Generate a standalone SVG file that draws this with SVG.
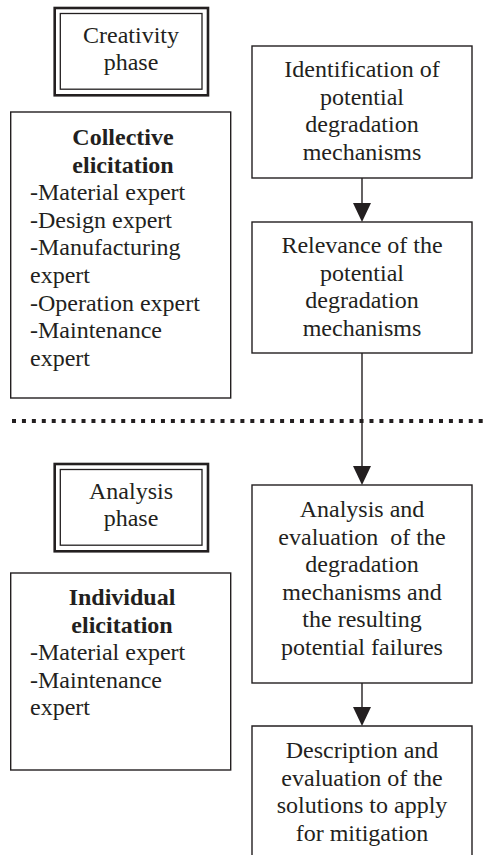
<svg xmlns="http://www.w3.org/2000/svg" width="488" height="859" viewBox="0 0 488 859">
<defs>
<style>
.bg{fill:#ffffff}
.box{fill:#ffffff;stroke:#231f20;stroke-width:1.4}
.outer{fill:#ffffff;stroke:#231f20;stroke-width:2.6}
.inner{fill:none;stroke:#231f20;stroke-width:1.3}
.t{font-family:"Liberation Serif","Times New Roman",serif;font-size:24px;fill:#231f20;white-space:pre}
.c{text-anchor:middle}
.b{font-weight:bold}
.line{stroke:#231f20;stroke-width:1.4;fill:none}
.head{fill:#231f20}
.dots{stroke:#231f20;stroke-width:4;stroke-dasharray:4 5.93;fill:none}
</style>
</defs>
<rect class="bg" x="0" y="0" width="488" height="859"/>

<g id="creativity-phase">
<rect class="outer" x="54.7" y="8" width="153.3" height="87.3"/>
<rect class="inner" x="60.3" y="13.5" width="141.7" height="75.7"/>
<text class="t c" x="131" y="43">Creativity</text>
<text class="t c" x="131" y="70">phase</text>
</g>

<g id="collective-elicitation">
<rect class="box" x="10.7" y="112" width="220" height="286"/>
<text class="t c b" x="123" y="145">Collective</text>
<text class="t c b" x="123" y="172.6">elicitation</text>
<text class="t" x="30" y="200.2">-Material expert</text>
<text class="t" x="30" y="227.8">-Design expert</text>
<text class="t" x="30" y="255.4">-Manufacturing</text>
<text class="t" x="30" y="283">expert</text>
<text class="t" x="30" y="310.6">-Operation expert</text>
<text class="t" x="30" y="338.2">-Maintenance</text>
<text class="t" x="30" y="365.8">expert</text>
</g>

<g id="identification">
<rect class="box" x="252" y="46" width="220" height="132"/>
<text class="t c" x="362" y="77">Identification of</text>
<text class="t c" x="362" y="104.6">potential</text>
<text class="t c" x="362" y="132.2">degradation</text>
<text class="t c" x="362" y="159.8">mechanisms</text>
</g>

<g id="relevance">
<rect class="box" x="252" y="222" width="220" height="131"/>
<text class="t c" x="362" y="253">Relevance of the</text>
<text class="t c" x="362" y="280.6">potential</text>
<text class="t c" x="362" y="308.2">degradation</text>
<text class="t c" x="362" y="335.8">mechanisms</text>
</g>

<g id="divider">
<line class="dots" x1="12" y1="421" x2="483" y2="421"/>
</g>

<g id="analysis-phase">
<rect class="outer" x="54.7" y="464" width="153.3" height="87.3"/>
<rect class="inner" x="60.3" y="469.5" width="141.7" height="75.7"/>
<text class="t c" x="131" y="499">Analysis</text>
<text class="t c" x="131" y="526">phase</text>
</g>

<g id="individual-elicitation">
<rect class="box" x="10.7" y="573" width="220" height="197"/>
<text class="t c b" x="122" y="605">Individual</text>
<text class="t c b" x="122" y="632.6">elicitation</text>
<text class="t" x="30" y="660.2">-Material expert</text>
<text class="t" x="30" y="687.8">-Maintenance</text>
<text class="t" x="30" y="715.4">expert</text>
</g>

<g id="analysis-evaluation">
<rect class="box" x="252" y="485" width="220" height="198"/>
<text class="t c" x="362" y="517">Analysis and</text>
<text class="t c" x="362" y="544.6">evaluation  of the</text>
<text class="t c" x="362" y="572.2">degradation</text>
<text class="t c" x="362" y="599.8">mechanisms and</text>
<text class="t c" x="362" y="627.4">the resulting</text>
<text class="t c" x="362" y="655">potential failures</text>
</g>

<g id="description">
<path class="box" d="M252,855 V726 H472 V855"/>
<text class="t c" x="362" y="758">Description and</text>
<text class="t c" x="362" y="785.6">evaluation of the</text>
<text class="t c" x="362" y="813.2">solutions to apply</text>
<text class="t c" x="362" y="840.8">for mitigation</text>
</g>

<g id="connectors">
<line class="line" x1="362" y1="178" x2="362" y2="205"/>
<polygon class="head" points="353,203 371,203 362,222"/>
<line class="line" x1="362" y1="353" x2="362" y2="468"/>
<polygon class="head" points="353,466 371,466 362,485"/>
<line class="line" x1="362" y1="683" x2="362" y2="709"/>
<polygon class="head" points="353,707 371,707 362,726"/>
</g>
</svg>
